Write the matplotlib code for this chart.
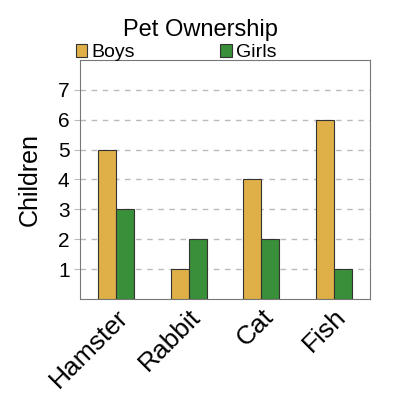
import matplotlib
matplotlib.use("Agg")
import matplotlib.pyplot as plt
import numpy as np

categories = ["Hamster", "Rabbit", "Cat", "Fish"]
boys = [5, 1, 4, 6]
girls = [3, 2, 2, 1]
yticks = [1, 2, 3, 4, 5, 6, 7]

plt.rcParams['font.family'] = ['Liberation Sans', 'DejaVu Sans']
fig = plt.figure(figsize=(4, 4), dpi=100)
ax = fig.add_axes([0.2, 0.2525, 0.725, 0.5975])
x = np.arange(len(categories))
w = 0.25
ax.bar(x - w/2, boys, w, color="#DEB047", edgecolor="#333333", linewidth=0.8, label="Boys", zorder=3)
ax.bar(x + w/2, girls, w, color="#3A8F3A", edgecolor="#333333", linewidth=0.8, label="Girls", zorder=3)
ax.set_xlim(-0.5, len(categories) - 0.5)
ax.set_ylim(0, 8)
ax.set_yticks(yticks)
ax.yaxis.grid(True, linestyle=(0, (4, 4)), color="#BBBBBB", linewidth=1, zorder=0)
ax.set_xticks(x)
ax.set_xticklabels(categories, rotation=45, ha="right", rotation_mode="anchor", fontsize=19)
ax.tick_params(axis='x', length=0, pad=4)
ax.tick_params(axis='y', labelsize=15, length=4, color="#BBBBBB")
for s in ax.spines.values():
    s.set_color("#777777")
ax.set_ylabel("Children", fontsize=18, labelpad=12)
fig.text(0.5, 0.925, "Pet Ownership", ha="center", va="center", fontsize=17)
ax.legend(loc="lower left", bbox_to_anchor=(-0.015, 0.995), ncol=2, frameon=False,
          fontsize=14, handlelength=0.6, handleheight=0.6, handletextpad=0.2,
          columnspacing=4.4, borderaxespad=0, borderpad=0)
fig.savefig("out.png", dpi=100)
